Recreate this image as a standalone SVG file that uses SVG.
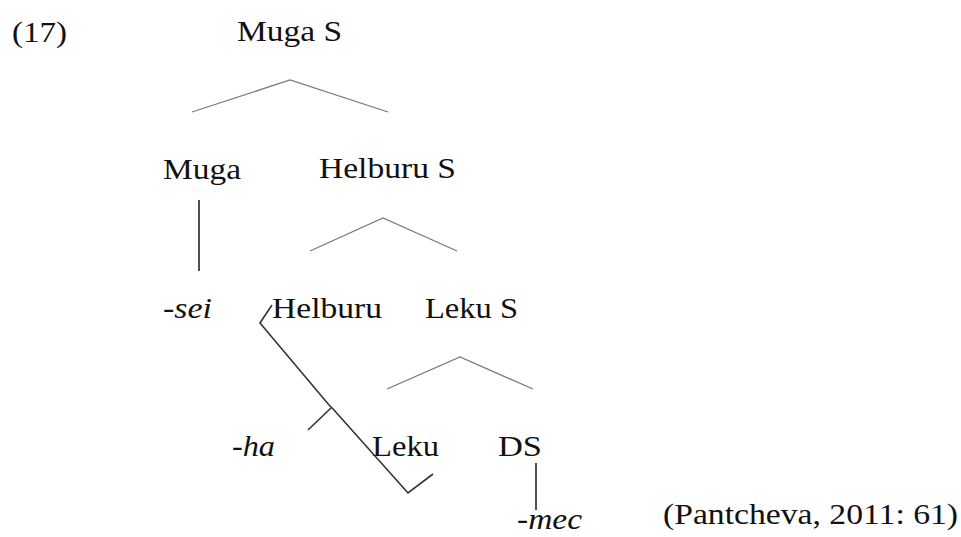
<svg xmlns="http://www.w3.org/2000/svg" width="961" height="537" viewBox="0 0 961 537">
<style>
text{font-family:"Liberation Serif","Times New Roman",serif;font-size:30px;fill:#111}
.it{font-style:italic}
.tri{fill:none;stroke:#7a7a7a;stroke-width:1.3}
.vl{fill:none;stroke:#222;stroke-width:1.6}
.mv{fill:none;stroke:#333;stroke-width:1.6;stroke-linejoin:miter}
</style>
<rect width="961" height="537" fill="#fff"/>
<g id="label-17"><text x="12" y="42" textLength="55" lengthAdjust="spacingAndGlyphs">(17)</text></g>
<g id="node-mugaS"><text x="237" y="41" textLength="105" lengthAdjust="spacingAndGlyphs">Muga S</text></g>
<g id="node-muga"><text x="163" y="179" textLength="78" lengthAdjust="spacingAndGlyphs">Muga</text></g>
<g id="node-helburuS"><text x="319" y="178" textLength="137" lengthAdjust="spacingAndGlyphs">Helburu S</text></g>
<g id="node-sei"><text class="it" x="163" y="318" textLength="49" lengthAdjust="spacingAndGlyphs">-sei</text></g>
<g id="node-helburu"><text x="272" y="318" textLength="110" lengthAdjust="spacingAndGlyphs">Helburu</text></g>
<g id="node-lekuS"><text x="425" y="318" textLength="93" lengthAdjust="spacingAndGlyphs">Leku S</text></g>
<g id="node-ha"><text class="it" x="232" y="456" textLength="43" lengthAdjust="spacingAndGlyphs">-ha</text></g>
<g id="node-leku"><text x="372" y="456" textLength="67" lengthAdjust="spacingAndGlyphs">Leku</text></g>
<g id="node-DS"><text x="498" y="456" textLength="44" lengthAdjust="spacingAndGlyphs">DS</text></g>
<g id="node-mec"><text class="it" x="517" y="529" textLength="65" lengthAdjust="spacingAndGlyphs">-mec</text></g>
<g id="citation"><text x="663" y="524" textLength="295" lengthAdjust="spacingAndGlyphs">(Pantcheva, 2011: 61)</text></g>
<g id="connectors">
<polyline class="tri" points="192,112 290,80 388,112"/>
<polyline class="tri" points="310,251 383,218 457,251"/>
<polyline class="tri" points="387,389 460,357 533,389"/>
<line class="vl" x1="199" y1="200" x2="199" y2="271"/>
<line class="vl" x1="536" y1="463" x2="536" y2="510"/>
<polyline class="mv" points="272,305 260,323 329,405 334,410 408,493 433,474"/>
<line class="mv" x1="331" y1="408" x2="308" y2="430" stroke-width="2"/>
</g>
</svg>
